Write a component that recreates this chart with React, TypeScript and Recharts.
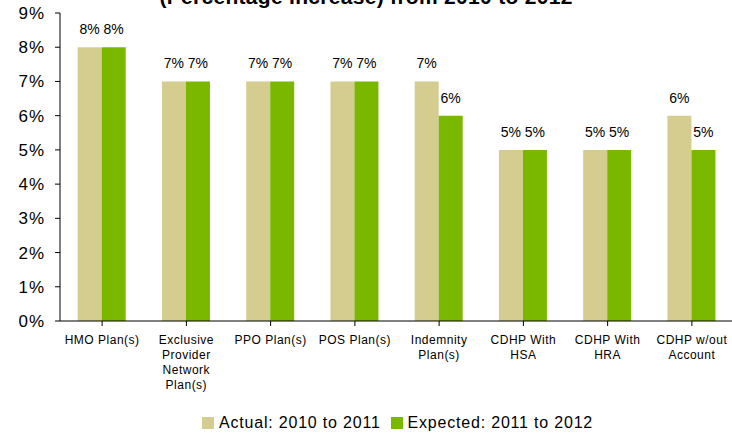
import React from 'react';
import { BarChart, Bar, XAxis, YAxis, Legend, Customized } from 'recharts';

const categories = [
  'HMO Plan(s)',
  'Exclusive\nProvider\nNetwork\nPlan(s)',
  'PPO Plan(s)',
  'POS Plan(s)',
  'Indemnity\nPlan(s)',
  'CDHP With\nHSA',
  'CDHP With\nHRA',
  'CDHP w/out\nAccount',
];
const actual = [8, 7, 7, 7, 7, 5, 5, 6];
const expected = [8, 7, 7, 7, 6, 5, 5, 5];
const yTicks = [0, 1, 2, 3, 4, 5, 6, 7, 8, 9];
const seriesNames = ['Actual: 2010 to 2011', 'Expected: 2011 to 2012'];
const titleText = '(Percentage Increase) from 2010 to 2012';

const BEIGE = '#D4CD8F';
const GREEN = '#7AB800';
const FONT = '"Liberation Sans", Arial, sans-serif';

const data = categories.map((c, i) => ({ name: c, actual: actual[i], expected: expected[i] }));

const XTick = (props: any) => {
  const { x, y, payload } = props;
  const lines = String(payload.value).split('\n');
  return (
    <text x={x} y={y} textAnchor="middle" fontFamily={FONT} fontSize={12} fill="#000" letterSpacing={0.5}>
      {lines.map((l, i) => (
        <tspan key={i} x={x} dy={i === 0 ? 9 : 15}>{l}</tspan>
      ))}
    </text>
  );
};

const ValueLabel = (props: any) => {
  const { x, y, width, value } = props;
  return (
    <text x={x + width / 2} y={y - 13} textAnchor="middle" fontFamily={FONT} fontSize={14} fill="#000">
      {`${value}%`}
    </text>
  );
};

const LegendContent = () => (
  <div style={{ display: 'flex', alignItems: 'center', height: 26, marginLeft: 202, fontFamily: FONT, fontSize: 16, letterSpacing: 0.8, color: '#000' }}>
    {seriesNames.map((n, i) => (
      <div key={n} style={{ display: 'flex', alignItems: 'center', marginRight: 10 }}>
        <div style={{ width: 12, height: 12, background: i === 0 ? BEIGE : GREEN, marginRight: 5 }} />
        <span style={{ whiteSpace: 'nowrap' }}>{n}</span>
      </div>
    ))}
  </div>
);

const Title = () => (
  <text x={366} y={4} textAnchor="middle" fontFamily={FONT} fontWeight="bold" fontSize={21} letterSpacing={0.3} fill="#000">
    {titleText}
  </text>
);

export default function App() {
  return (
    <div style={{ position: 'absolute', left: 0, top: 0, width: 732, height: 436, overflow: 'hidden', background: '#fff' }}>
      <BarChart
        width={736}
        height={436}
        data={data}
        margin={{ top: 13, right: 2, bottom: 0, left: 0 }}
        barCategoryGap="21%"
        barGap={0}
      >
        <XAxis
          dataKey="name"
          interval={0}
          height={89}
          tick={<XTick />}
          tickSize={5}
          tickMargin={9}
          axisLine={{ stroke: '#000' }}
          tickLine={{ stroke: '#000' }}
        />
        <YAxis
          width={60}
          domain={[0, 9]}
          ticks={yTicks}
          interval={0}
          tickFormatter={(v: number) => `${v}%`}
          tickSize={5}
          tickMargin={10}
          tick={{ fontFamily: FONT, fontSize: 17, fill: '#000', letterSpacing: 1 }}
          axisLine={{ stroke: '#000' }}
          tickLine={{ stroke: '#000' }}
        />
        <Legend
          verticalAlign="bottom"
          content={<LegendContent />}
          wrapperStyle={{ left: 0, width: 732, height: 26 }}
        />
        <Bar dataKey="actual" name={seriesNames[0]} fill={BEIGE} isAnimationActive={false} label={<ValueLabel />} />
        <Bar dataKey="expected" name={seriesNames[1]} fill={GREEN} isAnimationActive={false} label={<ValueLabel />} />
        <Customized component={<Title />} />
      </BarChart>
    </div>
  );
}
